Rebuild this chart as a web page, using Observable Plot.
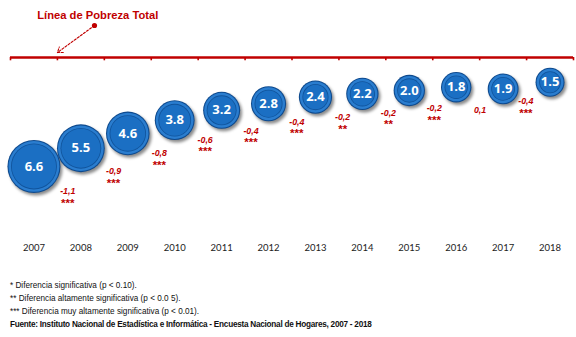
<!DOCTYPE html>
<html>
<head>
<meta charset="utf-8">
<script src="https://cdn.jsdelivr.net/npm/d3@7"></script>
<script src="https://cdn.jsdelivr.net/npm/@observablehq/plot@0.6"></script>
<style>
  html, body { margin: 0; padding: 0; background: #fff; }
  #chart svg { display: block; }
  #foot { padding: 14px 0 0 10px; font-family: "Liberation Sans", Arial, sans-serif; font-size: 8.2px; line-height: 13px; color: #111; }
  #foot .src { font-family: "Liberation Sans Narrow", "Liberation Sans", Arial, sans-serif; font-weight: bold; letter-spacing: -0.25px; }
</style>
</head>
<body>
<div id="chart"></div>
<div id="foot"></div>
<script>
// ---- data ----
const years = [2007, 2008, 2009, 2010, 2011, 2012, 2013, 2014, 2015, 2016, 2017, 2018];
const poverty = [6.6, 5.5, 4.6, 3.8, 3.2, 2.8, 2.4, 2.2, 2.0, 1.8, 1.9, 1.5];
const diffLabels = [null, "-1,1", "-0,9", "-0,8", "-0,6", "-0,4", "-0,4", "-0,2", "-0,2", "-0,2", "0,1", "-0,4"];
const significance = [null, "***", "***", "***", "***", "***", "***", "**", "**", "***", "", "***"];
const lineTitle = "Línea de Pobreza Total";
const footnotes = [
  "* Diferencia significativa (p < 0.10).",
  "** Diferencia altamente significativa (p < 0.0 5).",
  "*** Diferencia muy altamente significativa (p < 0.01)."
];
const source = "Fuente: Instituto Nacional de Estadística e Informática - Encuesta Nacional de Hogares, 2007 - 2018";

// ---- table ----
const rows = years.map((y, i) => ({year: y, value: poverty[i], diff: diffLabels[i], sig: significance[i]}));
const diffs = rows.filter(d => d.diff);
const boundaries = years.map(y => y - 0.5).concat([years[years.length - 1] + 0.5]);

// layout rules for annotations (data space)
const annX = d => d.year - (0.28 + 0.0235 * (d.year - 2008));
const annY = d => 0.63 + 1.36 * d.value;
// pointer annotation: points at the line (y = 0) at the first category boundary
const pointer = {x1: 2008.29, y1: -1.94, x2: boundaries[1], y2: -0.3, tx: 2008.36, ty: -2.55};

const red = "#c00000";

const plot = Plot.plot({
  width: 576,
  height: 265,
  marginLeft: 10,
  marginRight: 3,
  marginTop: 57,
  marginBottom: 25,
  x: {domain: [years[0] - 0.5, years[years.length - 1] + 0.5], axis: null},
  y: {domain: [0, 11.09], reverse: true, axis: null},
  r: {type: "linear", domain: [1.5, 6.6], range: [14.5, 26.5]},
  style: {background: "transparent"},
  marks: [
    // red poverty line with boundary ticks
    Plot.ruleY([0], {stroke: red, strokeWidth: 2.6}),
    Plot.ruleX(boundaries, {x: d => d, y1: 0, y2: 0.2, stroke: red, strokeWidth: 1.6}),
    // pointer annotation
    Plot.arrow([pointer], {x1: "x1", y1: "y1", x2: "x2", y2: "y2", stroke: red, strokeWidth: 1.1, strokeDasharray: "2.2,1.6", headLength: 8, headAngle: 70, bend: 0}),
    Plot.dot([pointer], {x: "x1", y: "y1", r: 2.6, fill: red, stroke: "none"}),
    Plot.text([lineTitle], {x: pointer.tx, y: pointer.ty, text: d => d, fill: red, fontWeight: "bold", fontSize: 11.2, fontFamily: "Liberation Sans, Arial, sans-serif"}),
    // bubbles: shadow, edge, highlight band, inner ring, core
    Plot.dot(rows, {x: "year", y: "value", r: "value", fill: "#000", fillOpacity: 0.45, dx: 2, dy: 2.5}),
    Plot.dot(rows, {x: "year", y: "value", r: "value", fill: "#0e4a8e"}),
    Plot.dot(rows, {x: "year", y: "value", r: d => d.value - 0.45, fill: "#2a7dcf"}),
    Plot.dot(rows, {x: "year", y: "value", r: d => d.value - 1.5, fill: "#11549c"}),
    Plot.dot(rows, {x: "year", y: "value", r: d => d.value - 1.85, fill: "#1b6fc3"}),
    Plot.text(rows, {x: "year", y: "value", text: d => d3.format(".1f")(d.value), fill: "white", fontWeight: "bold", fontSize: 13, fontFamily: "Open Sans, sans-serif"}),
    // differences and significance
    Plot.text(diffs, {x: annX, y: annY, text: "diff", fill: red, fontStyle: "italic", fontWeight: "bold", fontSize: 8.8, fontFamily: "Liberation Sans, Arial, sans-serif"}),
    Plot.text(diffs, {x: annX, y: annY, text: "sig", fill: red, fontWeight: "bold", fontSize: 11.5, dy: 12, fontFamily: "Liberation Sans, Arial, sans-serif"}),
    // year axis
    Plot.axisX(years, {anchor: "bottom", tickSize: 0, tickPadding: 4, tickFormat: d => String(d), fontSize: 9.5, fontFamily: "Lato, sans-serif", fill: "#222"})
  ]
});
document.getElementById("chart").appendChild(plot);

// soft shadow on the first bubble layer
const svg = d3.select(plot);
svg.insert("defs", ":first-child").append("filter").attr("id", "blurShadow")
  .attr("x", "-30%").attr("y", "-30%").attr("width", "160%").attr("height", "160%")
  .append("feGaussianBlur").attr("stdDeviation", 1.6);
const dotGroups = plot.querySelectorAll('g[aria-label="dot"]');
if (dotGroups.length > 1) dotGroups[1].setAttribute("filter", "url(#blurShadow)");

// footer
const foot = d3.select("#foot");
footnotes.forEach(t => foot.append("div").text(t));
foot.append("div").attr("class", "src").text(source);
</script>
</body>
</html>
